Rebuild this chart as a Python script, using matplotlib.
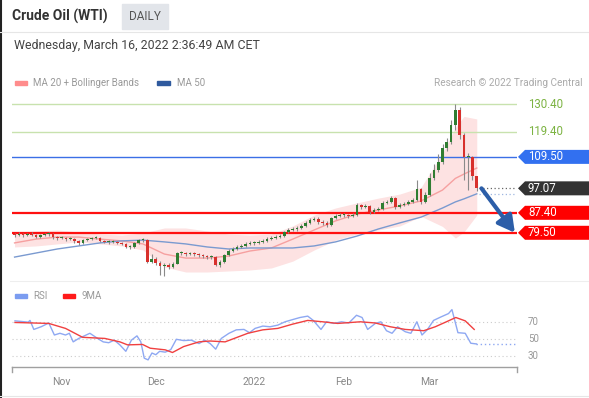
import numpy as np
import pandas as pd
import matplotlib
matplotlib.use("Agg")
import matplotlib.pyplot as plt
import matplotlib.transforms as mtransforms
from matplotlib.patches import Polygon, Rectangle

plt.rcParams['font.family'] = ['Roboto', 'DejaVu Sans']

# ---- data ----
dates = pd.bdate_range('2021-10-15', '2022-03-16')

first_open = 78.8
closes = [
    78.6, 79.0, 78.6, 79.0, 78.6, 77.8, 78.6, 79.0, 79.0, 77.8,
    77.4, 77.4, 77.0, 77.0, 76.2, 75.5, 76.6, 77.0, 77.4, 77.4,
    76.2, 75.9, 75.9, 75.9, 75.5, 75.1, 73.9, 73.9, 75.5, 76.6,
    76.6, 68.0, 69.1, 67.6, 66.4, 66.8, 66.0, 67.2, 71.5, 71.5,
    71.1, 71.5, 71.1, 70.7, 70.3, 69.9, 69.9, 66.8, 68.0, 70.7,
    72.3, 73.1, 73.9, 74.3, 75.1, 75.5, 75.5, 75.9, 76.2, 77.0,
    77.4, 77.8, 78.2, 79.8, 80.6, 81.0, 81.4, 82.2, 83.4, 84.6,
    85.0, 83.8, 83.4, 82.6, 85.3, 86.1, 86.5, 86.5, 86.1, 86.5,
    90.5, 89.7, 90.1, 87.7, 88.5, 88.9, 91.3, 91.7, 93.3, 89.7,
    90.5, 90.9, 91.7, 92.5, 96.8, 91.7, 94.4, 101.2, 104.3, 107.5,
    113.0, 115.4, 122.1, 128.0, 118.2, 109.5, 109.5, 101.9, 97.07]
highs = [
    79.6, 79.7, 79.5, 79.6, 79.8, 79.1, 79.2, 79.6, 79.7, 79.5,
    78.3, 78.1, 77.9, 77.7, 77.5, 76.6, 77.2, 77.6, 78.0, 78.1,
    77.8, 76.8, 76.5, 76.6, 76.4, 76.0, 75.5, 74.6, 76.0, 77.2,
    77.4, 76.9, 71.0, 69.8, 68.3, 67.6, 67.5, 67.9, 72.0, 72.3,
    72.0, 72.1, 71.9, 71.6, 71.2, 70.9, 70.6, 70.2, 68.6, 71.2,
    72.9, 73.7, 74.5, 75.0, 75.8, 76.2, 76.3, 76.7, 77.0, 77.7,
    78.2, 78.5, 79.0, 80.4, 81.3, 81.8, 82.1, 83.0, 84.0, 85.3,
    85.8, 85.6, 84.5, 84.0, 85.9, 86.8, 87.2, 87.3, 87.0, 87.2,
    91.2, 91.0, 90.8, 90.4, 89.2, 89.7, 92.0, 92.5, 94.0, 93.6,
    91.2, 91.7, 92.4, 93.4, 100.5, 97.3, 95.6, 103.0, 106.5, 110.5,
    114.5, 117.0, 124.0, 130.5, 129.3, 119.0, 111.0, 110.0, 99.5]
lows = [
    78.0, 78.2, 78.0, 78.3, 78.1, 77.3, 77.5, 78.2, 78.4, 77.2,
    76.8, 76.9, 76.4, 76.5, 75.4, 74.6, 75.2, 76.2, 76.6, 76.9,
    75.7, 75.3, 75.2, 75.3, 74.9, 74.5, 73.4, 73.1, 73.6, 75.2,
    76.0, 67.4, 67.5, 66.8, 63.0, 62.5, 65.2, 65.6, 67.0, 70.8,
    70.5, 70.6, 70.4, 70.1, 69.6, 69.3, 69.1, 66.2, 66.0, 67.6,
    70.3, 71.9, 72.6, 73.4, 73.8, 74.6, 74.8, 75.0, 75.4, 75.8,
    76.6, 76.9, 77.3, 77.9, 79.3, 80.1, 80.4, 80.9, 81.8, 83.0,
    84.0, 83.1, 82.5, 81.9, 82.3, 84.9, 85.6, 85.8, 85.4, 85.6,
    86.2, 89.0, 89.1, 87.0, 87.2, 88.0, 88.6, 90.8, 91.4, 89.0,
    89.2, 90.0, 90.4, 91.2, 92.0, 91.0, 91.2, 94.0, 100.5, 103.6,
    106.8, 112.0, 114.5, 120.0, 116.5, 100.5, 96.5, 100.5, 96.0]

# indicator lines, sampled at these candle indices
ma_idx = [0, 5, 10, 15, 20, 25, 30, 35, 40, 45, 50, 55, 60, 65, 70, 75,
          80, 85, 90, 95, 100, 103, 105, 108]
ma50 = [69.9, 71.5, 73.1, 74.3, 75.5, 76.3, 76.6, 75.9, 75.1, 73.9, 73.1, 73.5,
        73.5, 73.5, 74.3, 75.9, 78.2, 81.0, 83.4, 85.7, 89.3, 91.7, 92.9, 94.9]
ma20 = [75.5, 77.0, 77.8, 77.8, 77.0, 76.3, 75.1, 71.1, 69.5, 69.5, 70.3, 72.3,
        73.5, 77.0, 80.6, 84.2, 86.9, 88.5, 90.1, 92.1, 96.4, 101.0, 102.7, 105.1]
bb_upper = [79.8, 80.2, 80.6, 79.8, 79.0, 78.6, 79.4, 81.4, 81.4, 80.2, 79.0, 78.6,
            79.0, 82.2, 86.5, 89.3, 91.3, 93.2, 94.8, 97.5, 111.0, 121.0, 125.5, 124.5]
bb_lower = [73.9, 74.3, 75.1, 75.9, 75.1, 74.3, 72.7, 66.0, 64.0, 64.0, 64.4, 64.8,
            65.6, 68.3, 72.7, 76.6, 79.0, 80.6, 82.2, 86.0, 82.0, 77.4, 79.8, 86.5]

resistances = [130.40, 119.40]
pivot = 109.50
supports = [87.40, 79.50]

rsi_x = [0.1, 3.2, 3.6, 4.5, 6.2, 8.0, 9.3, 10.6, 11.9, 12.8, 13.7, 15.0, 16.3,
         17.6, 19.4, 20.7, 22.0, 23.3, 24.6, 26.0, 27.3, 28.6, 29.5, 30.3, 31.2,
         32.1, 33.0, 33.9, 35.2, 36.5, 37.8, 39.5, 41.3, 43.1, 44.4, 45.7, 47.0,
         48.3, 50.1, 51.8, 53.6, 54.9, 56.2, 58.0, 59.7, 61.5, 63.2, 65.0, 66.7,
         68.5, 69.8, 71.6, 72.9, 74.6, 76.4, 78.1, 79.9, 81.2, 82.5, 84.3, 85.6,
         86.9, 88.2, 89.5, 91.3, 92.6, 94.0, 95.2, 96.5, 97.9, 99.6, 101.4, 102.2,
         103.6, 105.3, 106.6, 107.9]
rsi_val = [71.5, 70, 72, 61.5, 64.6, 69, 55, 57, 55, 57, 47, 51, 54,
           57, 51, 47, 46, 49, 43.5, 36, 49, 54, 47, 28, 26,
           34, 32, 36, 35, 38, 50, 48.5, 49, 45, 49, 45, 38.5,
           51, 57, 61, 61.5, 57.7, 62.7, 65.4, 64.6, 66.5, 70.4, 73, 75.4,
           77, 72, 61.5, 70.4, 68.5, 70.4, 69, 78, 75.4, 61.5, 68.5, 70.4,
           60, 57, 64.6, 58.8, 57, 70.4, 55, 61.5, 72, 76, 80, 84.6,
           57.7, 57, 45.4, 44.6]
ma9_x = [0.1, 8.0, 11.9, 14.1, 15.9, 21.1, 24.6, 26.4, 29.9, 31.7, 35.2, 36.9,
         39.5, 43.1, 45.7, 49.2, 54.5, 58.0, 61.5, 65.0, 68.5, 72.0, 75.5, 80.8,
         84.3, 87.8, 91.3, 95.6, 98.3, 100.9, 103.1, 105.3, 107.4]
ma9_val = [69.6, 68.5, 62.7, 57, 52.3, 51, 47, 43.5, 44, 39.6, 37.7, 34.6,
           41.5, 47, 48, 47, 57, 61, 62.7, 67.7, 72, 70.4, 68.5, 70.4,
           69, 64.6, 61.5, 60, 64.6, 70.4, 75.4, 71.5, 61.5]
rsi_levels = [70, 50, 30]

month_names = ['Nov', 'Dec', '2022', 'Feb', 'Mar']

# ---- colours ----
GREEN_C = '#2f7d32'
RED_C = '#d8302c'
WICK = '#8a8a8a'

W, H = 589, 398


def rect(x0, y0, x1, y1):
    return [x0 / W, 1 - y1 / H, (x1 - x0) / W, (y1 - y0) / H]


fig = plt.figure(figsize=(W / 100, H / 100), dpi=100)
fig.patch.set_facecolor('white')

# overlay for header and frame bits (pixel coords)
ov = fig.add_axes([0, 0, 1, 1], zorder=0)
ov.set_xlim(0, W)
ov.set_ylim(H, 0)
ov.axis('off')

ov.plot([1, 1], [0, H], color='#222222', lw=1.5)
ov.plot([0, W], [32, 32], color='#e6e6e6', lw=0.8)
ov.plot([10, W], [281, 281], color='#eeeeee', lw=0.8)
ov.plot([0, W], [395.5, 395.5], color='#e6e6e6', lw=0.8)
ov.text(12, 16.5, 'Crude Oil (WTI)', fontsize=10, fontweight='bold', color='#333333',
        va='center', ha='left')
ov.add_patch(Rectangle((122, 4), 46, 25, color='#e2e5ea'))
ov.text(145, 16.5, 'DAILY', fontsize=8.5, color='#555555', va='center', ha='center')
ov.text(14, 45, 'Wednesday, March 16, 2022 2:36:49 AM CET', fontsize=8.9,
        color='#444444', va='center', ha='left')
ov.add_patch(Rectangle((15, 81), 12, 4, color='#ff8c8c'))
ov.text(33, 83, 'MA 20 + Bollinger Bands', fontsize=7, color='#999999', va='center')
ov.add_patch(Rectangle((157, 81), 13, 4, color='#2f5a9e'))
ov.text(177, 83, 'MA 50', fontsize=7, color='#999999', va='center')
ov.text(583, 83, 'Research \u00a9 2022 Trading Central', fontsize=7.2, color='#aaaaaa',
        va='center', ha='right')
ov.add_patch(Rectangle((15, 294), 12, 4, color='#7b9cf0'))
ov.text(33, 296, 'RSI', fontsize=7, color='#999999', va='center')
ov.add_patch(Rectangle((63, 294), 12, 4, color='#ff1a1a'))
ov.text(82, 296, '9MA', fontsize=7, color='#999999', va='center')

# ---- price panel ----
n = len(closes)
idx = np.arange(n)
opens = np.array([first_open] + closes[:-1])
c = np.array(closes)
xmin, xmax = -0.6, 117.4

ax = fig.add_axes(rect(12, 95, 517, 280), zorder=1)
ax.patch.set_alpha(0)
ax.set_xlim(xmin, xmax)
ax.set_ylim(60.84, 133.96)
ax.axis('off')

ax.fill_between(ma_idx, bb_lower, bb_upper, color='#fde2e2', lw=0, zorder=1)
ax.plot(ma_idx, ma20, color='#f6a0a0', lw=1, zorder=2)
ax.plot(ma_idx, ma50, color='#7a9ad0', lw=1, zorder=2)

for v in resistances:
    ax.axhline(v, color='#c8e2ae', lw=1, zorder=2)
ax.axhline(pivot, color='#3b6fe6', lw=1, zorder=2)
for v in supports:
    ax.axhline(v, color='#ff1010', lw=1.6, zorder=2)

up = c >= opens
body_lo = np.minimum(opens, c)
body_h = np.maximum(np.abs(c - opens), 0.35)
ax.vlines(idx, lows, highs, color=WICK, lw=0.8, zorder=3)
ax.bar(idx[up], body_h[up], bottom=body_lo[up], width=0.62, color=GREEN_C, zorder=4)
ax.bar(idx[~up], body_h[~up], bottom=body_lo[~up], width=0.62, color=RED_C, zorder=4)

ax.hlines(c[-1], n - 0.4, xmax, color='#666666', lw=0.9, linestyles=(0, (1, 2)), zorder=2)
ax.hlines(ma50[-1], n - 0.4, xmax, color='#9fb6e0', lw=0.9, linestyles=(0, (1, 2)), zorder=2)

ax.annotate('', xy=(xmax - 0.5, supports[1]), xytext=(n + 0.1, c[-1]),
            arrowprops=dict(arrowstyle='-|>,head_length=1.0,head_width=0.55',
                            color='#2c5ea8', lw=3.0, shrinkA=0, shrinkB=0,
                            mutation_scale=10), zorder=6)

tr = mtransforms.blended_transform_factory(ax.transAxes, ax.transData)
px = 1 / 505.0
hh = 7.0 / 2.53


def tag(v, color):
    pts = [(1 + px, v), (1 + 8 * px, v + hh), (1 + 80 * px, v + hh),
           (1 + 80 * px, v - hh), (1 + 8 * px, v - hh)]
    ax.add_patch(Polygon(pts, closed=True, transform=tr, clip_on=False,
                         facecolor=color, edgecolor='none', zorder=5))
    ax.text(1 + 11 * px, v, f'{v:.2f}', transform=tr, color='white', fontsize=8.3,
            va='center', ha='left', zorder=6)


for v in resistances:
    ax.text(1 + 11 * px, v, f'{v:.2f}', transform=tr, color='#7cb342', fontsize=8.3,
            va='center', ha='left')
tag(pivot, '#3270f0')
tag(c[-1], '#333333')
for v in supports:
    tag(v, '#ff0000')

# ---- RSI panel ----
rsi = fig.add_axes(rect(12, 300, 517, 367), zorder=1)
rsi.patch.set_alpha(0)
rsi.set_xlim(xmin, xmax)
rsi.set_ylim(17.7, 95.8)
for s in ['top', 'left', 'right']:
    rsi.spines[s].set_visible(False)
rsi.spines['bottom'].set_color('#a0a0a0')
rsi.spines['bottom'].set_linewidth(1)
rsi.set_yticks([])
rsi.plot([0, 0], [0, -0.08], transform=rsi.transAxes, color='#a0a0a0', lw=1, clip_on=False)
rsi.plot([1, 1], [0, -0.08], transform=rsi.transAxes, color='#a0a0a0', lw=1, clip_on=False)

for v in rsi_levels:
    rsi.axhline(v, color='#cccccc', lw=0.8, linestyle=(0, (1, 2.5)))
rtr = mtransforms.blended_transform_factory(rsi.transAxes, rsi.transData)
for v in rsi_levels:
    rsi.text(1 + 11 * px, v, str(v), transform=rtr, color='#999999', fontsize=7,
             va='center', ha='left')

rsi.plot(rsi_x, rsi_val, color='#8ea8f2', lw=1)
rsi.plot(ma9_x, ma9_val, color='#f04040', lw=1)
rsi.hlines(rsi_val[-1], rsi_x[-1], xmax - 0.3, color='#8ea8f2', lw=1, linestyles=(0, (1, 2)))

month_pos = [i for i in range(1, n) if dates[i].month != dates[i - 1].month]
rsi.set_xticks(month_pos)
rsi.set_xticklabels(month_names, fontsize=7.5, color='#888888')
rsi.tick_params(axis='x', length=0, pad=7)

fig.savefig('out.png', dpi=100, facecolor='white')
